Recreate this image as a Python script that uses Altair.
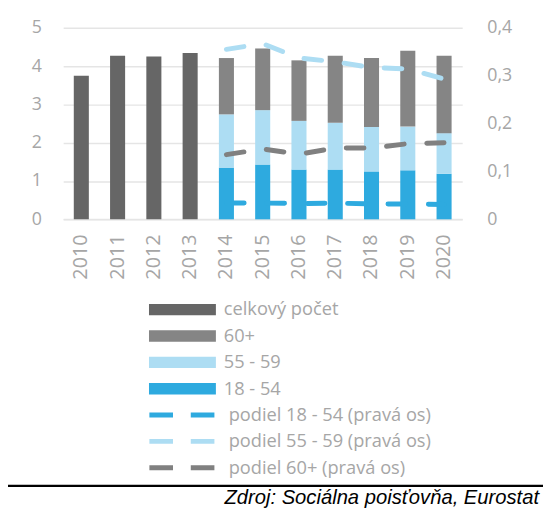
import altair as alt
import pandas as pd

years = [str(y) for y in range(2010, 2021)]
years_early = ["2010", "2011", "2012", "2013"]
years_late = ["2014", "2015", "2016", "2017", "2018", "2019", "2020"]

total_early = [3.75, 4.27, 4.25, 4.34]
v18_54 = [1.35, 1.43, 1.30, 1.30, 1.25, 1.28, 1.19]
v55_59 = [1.39, 1.42, 1.27, 1.22, 1.16, 1.14, 1.06]
v60 = [1.47, 1.61, 1.58, 1.75, 1.80, 1.98, 2.02]

s18_54 = [0.034, 0.034, 0.033, 0.034, 0.032, 0.032, 0.031]
s55_59 = [0.355, 0.367, 0.337, 0.329, 0.317, 0.314, 0.293]
s60 = [0.135, 0.147, 0.136, 0.149, 0.149, 0.158, 0.160]

bar_series = ["celkový počet", "60+", "55 - 59", "18 - 54"]
bar_colors = ["#666666", "#858585", "#ADDDF3", "#2EAADF"]
line_series = ["podiel 18 - 54 (pravá os)", "podiel 55 - 59 (pravá os)", "podiel 60+ (pravá os)"]
line_colors = ["#2EAADF", "#ADDDF3", "#808080"]

source_text = "Zdroj: Sociálna poisťovňa, Eurostat"

rows = []
for y, v in zip(years_early, total_early):
    rows.append({"year": y, "series": "celkový počet", "value": v, "ord": 0})
for i, y in enumerate(years_late):
    rows.append({"year": y, "series": "18 - 54", "value": v18_54[i], "ord": 1})
    rows.append({"year": y, "series": "55 - 59", "value": v55_59[i], "ord": 2})
    rows.append({"year": y, "series": "60+", "value": v60[i], "ord": 3})
bars_df = pd.DataFrame(rows)

lrows = []
for name, vals in zip(line_series, [s18_54, s55_59, s60]):
    for y, v in zip(years_late, vals):
        lrows.append({"year": y, "series": name, "share": v})
lines_df = pd.DataFrame(lrows)

FONT = "Open Sans"
GRAY = "#A6A6A6"
GRID = "#E5E5E5"

x_enc = alt.X(
    "year:N",
    scale=alt.Scale(domain=years, paddingInner=0.585, paddingOuter=0.2925),
    axis=alt.Axis(
        title=None, labelAngle=270, ticks=False, domain=True, domainColor=GRID,
        domainWidth=1.5, labelPadding=15, labelFontSize=20, grid=False,
    ),
)

bars = alt.Chart(bars_df).mark_bar().encode(
    x=x_enc,
    y=alt.Y(
        "value:Q", stack="zero",
        scale=alt.Scale(domain=[0, 5], nice=False),
        axis=alt.Axis(
            values=[0, 1, 2, 3, 4, 5], orient="left", title=None, grid=True,
            domain=False, ticks=False, labelPadding=22, labelFontSize=18,
            gridColor=GRID, gridWidth=1.5,
        ),
    ),
    fill=alt.Fill(
        "series:N",
        scale=alt.Scale(domain=bar_series, range=bar_colors),
        legend=alt.Legend(
            orient="none", legendX=87, legendY=276, title=None,
            symbolType="M-1,-0.17H1V0.17H-1Z", symbolSize=4624,
            clipHeight=20, rowPadding=6.8, labelOffset=8,
            labelFontSize=18.5, labelFont=FONT, labelColor=GRAY, labelLimit=400,
            padding=0, direction="vertical", symbolStrokeWidth=0,
            symbolOpacity=1,
        ),
    ),
    order=alt.Order("ord:Q"),
)

lines = alt.Chart(lines_df).mark_line(
    strokeWidth=5, strokeDash=[18, 23], strokeCap="round"
).encode(
    x=alt.X("year:N", scale=alt.Scale(domain=years)),
    y=alt.Y(
        "share:Q",
        scale=alt.Scale(domain=[0, 0.4], nice=False),
        axis=alt.Axis(
            values=[0, 0.1, 0.2, 0.3, 0.4], orient="right", title=None,
            grid=False, domain=False, ticks=False, labelPadding=25,
            labelFontSize=18,
            labelExpr="datum.value == 0 ? '0' : replace(format(datum.value, '.1f'), '.', ',')",
        ),
    ),
    stroke=alt.Stroke(
        "series:N",
        scale=alt.Scale(domain=line_series, range=line_colors),
        legend=alt.Legend(
            orient="none", legendX=85, legendY=383, title=None,
            symbolType="stroke", symbolSize=4356, symbolStrokeWidth=5,
            symbolDash=[24, 18], clipHeight=20, rowPadding=6.8, labelOffset=12,
            labelFontSize=18.5, labelFont=FONT, labelColor=GRAY, labelLimit=400,
            padding=0, direction="vertical",
        ),
    ),
    detail="series:N",
)

note_df = pd.DataFrame({"t": [source_text]})
rule = alt.Chart(note_df).mark_rule(color="black", strokeWidth=2.2).encode(
    x=alt.value(-56), x2=alt.value(487), y=alt.value(465)
)
note = alt.Chart(note_df).mark_text(
    font="Liberation Sans", fontStyle="italic", fontSize=20.5, align="right",
    baseline="alphabetic", color="black",
).encode(x=alt.value(483), y=alt.value(483.5), text="t:N")

chart = alt.layer(bars, lines, rule, note).resolve_scale(
    y="independent"
).properties(
    width=405, height=194.4,
    autosize=alt.AutoSizeParams(type="none"),
    padding={"left": 56, "top": 16.3, "right": 82, "bottom": 295.3},
).configure_view(stroke=None).configure_axis(
    labelFont=FONT, labelColor=GRAY
)

chart.save("out.html", embed_options={"renderer": "svg", "actions": False})
